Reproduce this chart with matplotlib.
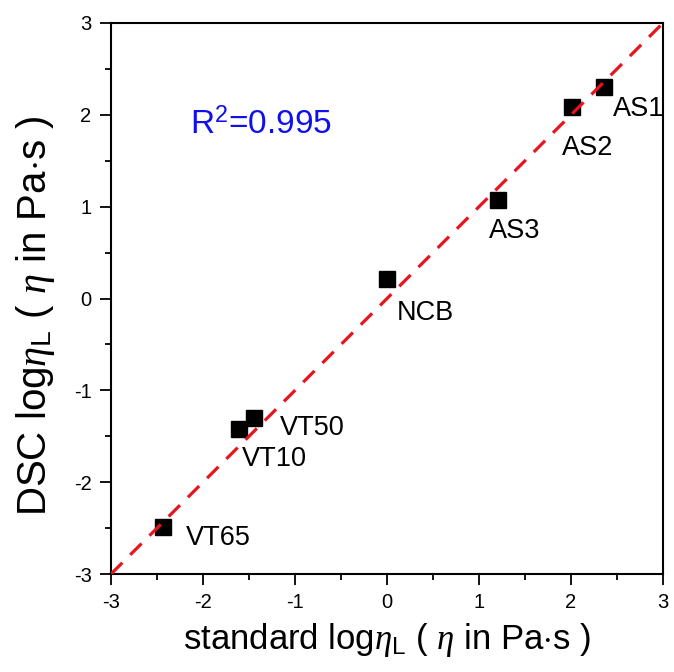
import matplotlib
matplotlib.use('Agg')
import matplotlib.pyplot as plt
from matplotlib.ticker import MultipleLocator

plt.rcParams['font.family'] = ['Liberation Sans', 'DejaVu Sans']
plt.rcParams['mathtext.fontset'] = 'custom'
plt.rcParams['mathtext.rm'] = 'Liberation Sans'
plt.rcParams['mathtext.it'] = 'Liberation Serif:italic'
plt.rcParams['mathtext.bf'] = 'Liberation Sans:bold'
plt.rcParams['axes.unicode_minus'] = False

# data
samples = ['AS1', 'AS2', 'AS3', 'NCB', 'VT50', 'VT10', 'VT65']
standard = [2.36, 2.01, 1.21, 0.00, -1.45, -1.61, -2.43]
dsc = [2.30, 2.09, 1.07, 0.21, -1.30, -1.42, -2.49]
label_offsets = {
    'AS1': (6.5, -16), 'AS2': (-7, -30), 'AS3': (-6.5, -22), 'NCB': (7, -24),
    'VT50': (19, -7), 'VT10': (2, -22), 'VT65': (16, -8),
}
fit_x = [-3, 3]
fit_y = [-3, 3]
r2 = 0.995

fig = plt.figure(figsize=(6.74, 6.72), dpi=100)
ax = fig.add_axes([0.1647, 0.1458, 0.819, 0.82])

ax.plot(fit_x, fit_y, color='#e8141e', lw=2.3, dashes=(5, 3.5), zorder=3)
ax.plot(standard, dsc, 's', color='black', markersize=11.5, zorder=2)

for name, x, y in zip(samples, standard, dsc):
    ax.annotate(name, (x, y), xytext=label_offsets[name], textcoords='offset points',
                ha='left', va='center', fontsize=19.5)

ax.text(0.143, 0.815, r'R$^{2}$=%.3f' % r2, transform=ax.transAxes,
        color='#1010ee', fontsize=24, ha='left', va='center')

ax.set_xlim(-3, 3)
ax.set_ylim(-3, 3)
ax.xaxis.set_major_locator(MultipleLocator(1))
ax.yaxis.set_major_locator(MultipleLocator(1))
ax.xaxis.set_minor_locator(MultipleLocator(0.5))
ax.yaxis.set_minor_locator(MultipleLocator(0.5))
ax.tick_params(which='both', direction='out', top=False, right=False, width=1.3,
               labelsize=14.5, pad=6)
ax.tick_params(which='major', length=8)
ax.tick_params(which='minor', length=4.5)
for sp in ax.spines.values():
    sp.set_linewidth(1.5)

ax.set_xlabel(r'standard log$\mathit{\eta}_{\mathrm{L}}$ ( $\mathit{\eta}$ in Pa$\cdot$s )',
              fontsize=25, labelpad=6)
ax.set_ylabel(r'DSC log$\mathit{\eta}_{\mathrm{L}}$ ( $\mathit{\eta}$ in Pa$\cdot$s )',
              fontsize=29)
ax.yaxis.set_label_coords(-0.098, 0.468)

fig.savefig('out.png', dpi=100)
